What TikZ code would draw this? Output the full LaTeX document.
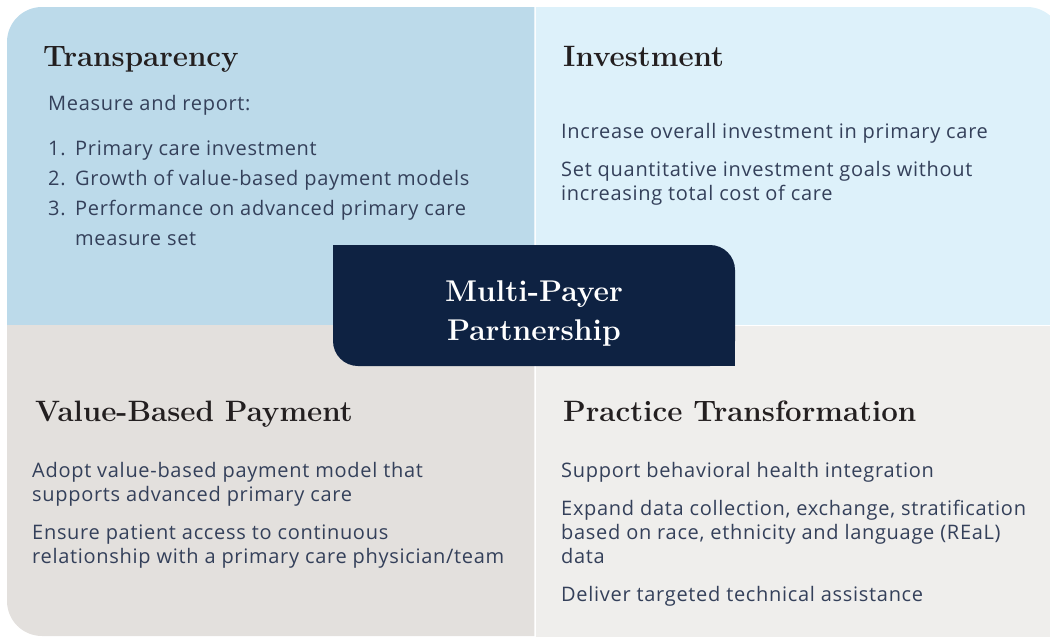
\documentclass[tikz,border=0pt]{standalone}
\usepackage{fontspec}
\newfontfamily\bodyfont[LetterSpace=3.5]{Open Sans}
\definecolor{qtl}{HTML}{BCDAEA}
\definecolor{qtr}{HTML}{DDF1FA}
\definecolor{qbl}{HTML}{E3E0DD}
\definecolor{qbr}{HTML}{EFEEEC}
\definecolor{navy}{HTML}{0E2242}
\definecolor{headc}{HTML}{231F20}
\definecolor{bodyc}{HTML}{34405A}
\begin{document}
\begin{tikzpicture}[x=1pt,y=-1pt,
  head/.style={anchor=base west, inner sep=0pt, text=headc, font=\fontsize{29.5}{34}\selectfont\bfseries},
  body/.style={anchor=base west, inner sep=0pt, text=bodyc, font=\bodyfont\fontsize{20}{24}\selectfont},
  centretext/.style={text=white, align=center, font=\fontsize{30}{39}\selectfont\bfseries}]
\useasboundingbox (0,0) rectangle (1050,637);
% quadrants
\begin{scope}
  \clip (0,0) rectangle (534.25,324.25);
  \fill[qtl, rounded corners=35pt] (7,7) rectangle (600,400);
\end{scope}
\begin{scope}
  \clip (535.75,0) rectangle (1050,324.25);
  \fill[qtr, rounded corners=35pt] (450,7) rectangle (1062,400);
\end{scope}
\begin{scope}
  \clip (0,325.75) rectangle (534.25,637);
  \fill[qbl, rounded corners=35pt] (7,250) rectangle (600,636);
\end{scope}
\fill[qbr] (535.75,325.75) rectangle (1050,637);
% centre box
\node[fill=navy, rounded corners=25pt, minimum width=402pt, minimum height=121pt, inner sep=0pt] (centre) at (534,305.5) {};
\fill[navy] (centre.north west) rectangle ++(30,30);
\fill[navy] (centre.south east) rectangle ++(-30,-30);
\node[centretext] (centrelabel) at ([yshift=-8pt]centre.center) {Multi-Payer\\Partnership};
% Transparency
\node[head] (h1) at (43,66) {Transparency};
\node[body] (t0) at (48,110) {Measure and report:};
\node[body] (n1) at (48,155) {1.};
\node[body] (t1) at (75,155) {Primary care investment};
\node[body] (n2) at (48,185) {2.};
\node[body] (t2) at (75,185) {Growth of value-based payment models};
\node[body] (n3) at (48,215) {3.};
\node[body] (t3) at (75,215) {Performance on advanced primary care};
\node[body] (t3b) at (75,245) {measure set};
% Investment
\node[head] (h2) at (563,66) {Investment};
\node[body] (i1) at (561,138) {Increase overall investment in primary care};
\node[body] (i2) at (561,176) {Set quantitative investment goals without};
\node[body] (i2b) at (561,200) {increasing total cost of care};
% Value-Based Payment
\node[head] (h3) at (35,421) {Value-Based Payment};
\node[body] (v1) at (32,477) {Adopt value-based payment model that};
\node[body] (v1b) at (32,501) {supports advanced primary care};
\node[body] (v2) at (32,539) {Ensure patient access to continuous};
\node[body] (v2b) at (32,563) {relationship with a primary care physician/team};
% Practice Transformation
\node[head] (h4) at (563,421) {Practice Transformation};
\node[body] (p1) at (561,477) {Support behavioral health integration};
\node[body] (p2) at (561,515) {Expand data collection, exchange, stratification};
\node[body] (p2b) at (561,539) {based on race, ethnicity and language (REaL)};
\node[body] (p2c) at (561,563) {data};
\node[body] (p3) at (561,601) {Deliver targeted technical assistance};
\end{tikzpicture}
\end{document}
